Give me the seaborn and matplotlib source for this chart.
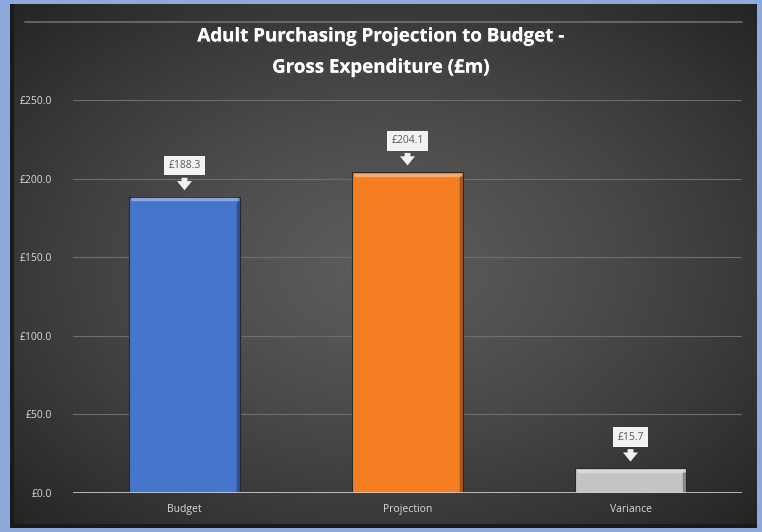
import numpy as np
import pandas as pd
import matplotlib
matplotlib.use("Agg")
import matplotlib.pyplot as plt
import matplotlib.patheffects as pe
import seaborn as sns

categories = ["Budget", "Projection", "Variance"]
values = [188.3, 204.1, 15.7]
labels = ["£188.3", "£204.1", "£15.7"]
yticks = [0, 50, 100, 150, 200, 250]
ytick_labels = ["£0.0", "£50.0", "£100.0", "£150.0", "£200.0", "£250.0"]
colors = ["#4675CC", "#F57D22", "#C4C4C4"]

sns.set_theme(style="dark")
plt.rcParams['font.family'] = ['Open Sans', 'DejaVu Sans']

W, H = 762, 532
fig = plt.figure(figsize=(W / 100, H / 100), dpi=100)
fig.patch.set_facecolor("#8EA9DB")

# background panel with radial gradient
px0, py0, px1, py1 = 10, 4, 757, 528
bg = fig.add_axes([px0 / W, 1 - py1 / H, (px1 - px0) / W, (py1 - py0) / H], zorder=0)
yy, xx = np.mgrid[-1:1:300j, -1:1:400j]
r = np.sqrt(xx ** 2 + (yy * 1.0) ** 2) / np.sqrt(2)
img = 0.36 - 0.22 * r ** 1.3
bg.imshow(np.dstack([img, img, img]), aspect="auto", extent=[0, 1, 0, 1], interpolation="bilinear")
bg.set_xlim(0, 1); bg.set_ylim(0, 1)
bg.axis("off")
# bevel frame
bg.plot([0.02, 0.98], [0.965, 0.965], color="#8a8a8a", lw=1.2, alpha=0.7, transform=bg.transAxes)
bg.plot([0.003, 0.003], [0, 1], color="#1a1a1a", lw=3, transform=bg.transAxes)
bg.plot([0, 1], [0.004, 0.004], color="#1a1a1a", lw=3, transform=bg.transAxes)

ax = fig.add_axes([73 / W, (H - 493) / H, (742 - 73) / W, (493 - 100) / H], zorder=1)
ax.patch.set_alpha(0)

df = pd.DataFrame({"category": categories, "value": values})
sns.barplot(data=df, x="category", y="value", hue="category", palette=colors,
            width=0.5, legend=False, ax=ax, saturation=1,
            edgecolor="#2a2a2a", linewidth=0.8)

# bevel highlights on bars
for patch in ax.patches:
    x0 = patch.get_x(); w = patch.get_width(); h = patch.get_height()
    ax.plot([x0 + 0.012, x0 + w - 0.012], [h - 1.5, h - 1.5], color="white", alpha=0.35, lw=2.5, zorder=3,
            solid_capstyle="butt")
    ax.plot([x0 + w - 0.008, x0 + w - 0.008], [0, h - 2.5], color="black", alpha=0.3, lw=2.5, zorder=3,
            solid_capstyle="butt")

ax.set_xlim(-0.5, 2.5)
ax.set_ylim(0, 250)
ax.set_yticks(yticks)
ax.set_yticklabels(ytick_labels)
ax.set_xlabel("")
ax.set_ylabel("")
ax.tick_params(axis="both", colors="#D9D9D9", labelsize=7.5, length=0)
ax.tick_params(axis="y", pad=15)
ax.tick_params(axis="x", pad=8)
ax.grid(axis="y", color="#6E6E6E", lw=0.8)
ax.grid(axis="x", visible=False)
ax.set_axisbelow(True)
for s in ax.spines.values():
    s.set_visible(False)
ax.axhline(0, color="#D0D0D0", lw=1.2, zorder=4)

for i, (v, lab) in enumerate(zip(values, labels)):
    ax.annotate("", xy=(i, v + 2.5), xytext=(0, 13), textcoords="offset points",
                arrowprops=dict(arrowstyle="simple,head_width=0.9,head_length=0.55,tail_width=0.35",
                                color="#F2F2F2", lw=0), zorder=5)
    ax.annotate(lab, xy=(i, v), xytext=(0, 22.5), textcoords="offset points",
                ha="center", va="center", fontsize=7.5, color="#595959",
                bbox=dict(boxstyle="square,pad=0.4", fc="#F2F2F2", ec="none"), zorder=6)

fig.text(0.5, 1 - 52 / H, "Adult Purchasing Projection to Budget -\nGross Expenditure (£m)",
         ha="center", va="center", color="white", fontsize=13.5, fontweight="bold",
         linespacing=1.75,
         path_effects=[pe.withSimplePatchShadow(offset=(1.5, -1.5), alpha=0.6), pe.Normal()])

fig.savefig("out.png", dpi=100, facecolor=fig.get_facecolor())
